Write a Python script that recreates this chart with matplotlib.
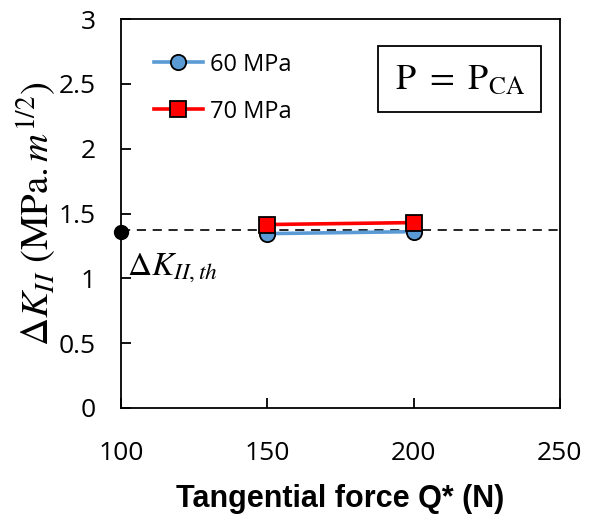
import matplotlib.pyplot as plt
import numpy as np

plt.rcParams['mathtext.fontset'] = 'stix'

# data
force = [150, 200]
dk_60 = [1.345, 1.36]
dk_70 = [1.415, 1.43]
dk_th = 1.37
series_labels = ['60 MPa', '70 MPa']
yticks = np.arange(0, 3.01, 0.5)
ytick_labels = ['0', '0.5', '1', '1.5', '2', '2.5', '3']

fig = plt.figure(figsize=(5.89, 5.2), dpi=100)
ax = fig.add_axes([0.2054, 0.2154, 0.745, 0.748])

ax.axhline(dk_th, color='black', ls=(0, (5.5, 4)), lw=1.2, zorder=1)
ax.plot([100], [1.36], 'o', color='black', ms=10, clip_on=False, zorder=5)

ax.plot(force, dk_60, '-o', color='#5b9bd5', mfc='#5b9bd5', mec='black', mew=1.3,
        ms=11, lw=2.6, label=series_labels[0], zorder=3)
ax.plot(force, dk_70, '-s', color='#ff0000', mfc='#ff0000', mec='black', mew=1.3,
        ms=11, lw=2.6, label=series_labels[1], zorder=4)

ax.set_xlim(100, 250)
ax.set_ylim(0, 3)
ax.set_xticks([100, 150, 200, 250])
ax.set_yticks(yticks)
ax.set_yticklabels(ytick_labels)
ax.tick_params(direction='in', length=7, width=1.3, labelsize=19,
               right=False, top=False)
ax.tick_params(axis='y', pad=18)
ax.tick_params(axis='x', pad=24)
for lbl in ax.get_xticklabels() + ax.get_yticklabels():
    lbl.set_family('Open Sans')
for s in ax.spines.values():
    s.set_linewidth(1.3)

ax.set_xlabel('Tangential force Q* (N)', fontsize=22, fontweight='bold',
              family='Liberation Sans', labelpad=13)
ax.set_ylabel(r'$\Delta K_{II}\ (\mathrm{MPa.}m^{1/2})$', fontsize=28, labelpad=0)

ax.text(102, 1.08, r'$\Delta K_{II,th}$', fontsize=24, ha='left', va='center')

ax.text(0.772, 0.846, r'$\mathrm{P\ =\ P_{CA}}$', transform=ax.transAxes, fontsize=26,
        ha='center', va='center',
        bbox=dict(boxstyle='square,pad=0.45', fc='white', ec='black', lw=1.3))

leg = ax.legend(loc='upper left', bbox_to_anchor=(0.026, 0.968), frameon=False,
                handlelength=2.08, handletextpad=0.3, labelspacing=0.97,
                prop={'family': 'Open Sans', 'size': 17})

fig.savefig('out.png', dpi=100)
